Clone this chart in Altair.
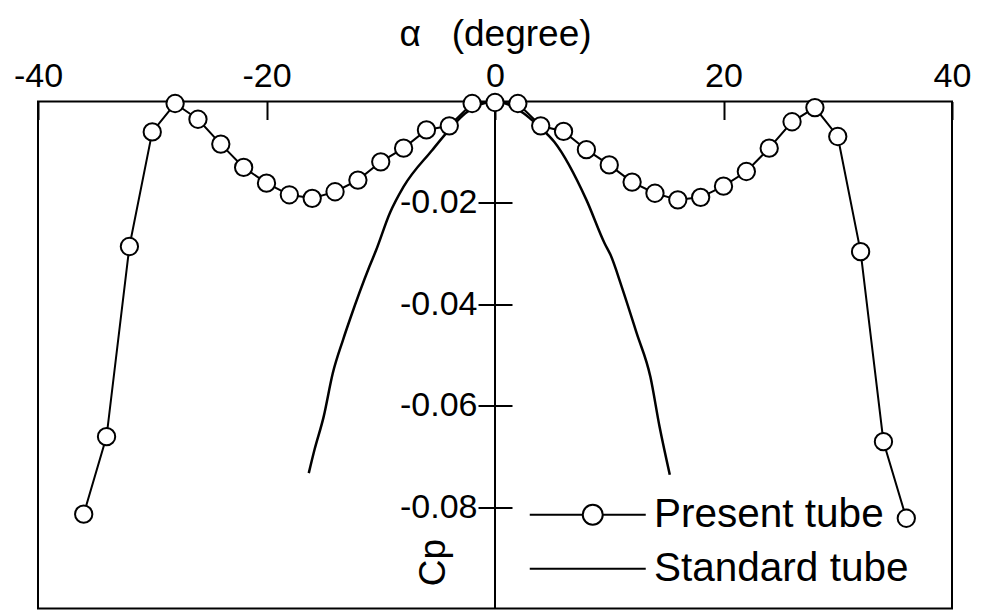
import altair as alt
import pandas as pd

# Pressure coefficient Cp against flow angle alpha for two pitot tubes
present_alpha = [-36, -34, -32, -30, -28, -26, -24, -22, -20, -18, -16, -14, -12,
                 -10, -8, -6, -4, -2, 0, 2, 4, 6, 8, 10, 12, 14, 16, 18, 20, 22,
                 24, 26, 28, 30, 32, 34, 36]
present_cp = [-0.0814, -0.0661, -0.0286, -0.0060, -0.0004, -0.0035, -0.0084,
              -0.0130, -0.0161, -0.0184, -0.0191, -0.0178, -0.0155, -0.0119,
              -0.0092, -0.0056, -0.0048, -0.0004, -0.0002, -0.0004, -0.0048,
              -0.0059, -0.0095, -0.0125, -0.0159, -0.0181, -0.0194, -0.0189,
              -0.0167, -0.0138, -0.0092, -0.0040, -0.0012, -0.0069, -0.0296,
              -0.0671, -0.0822]

standard_alpha = [-16.3, -15.8, -15.0, -14.2, -13.3, -12.7, -11.0, -10.4, -9.2,
                  -8.0, -5.5, -3.9, -2.6, 0.0, 2.5, 3.8, 5.2, 8.0, 9.6, 10.1,
                  11.1, 12.4, 13.6, 14.4, 15.3]
standard_cp = [-0.0733, -0.0687, -0.0622, -0.0536, -0.0470, -0.0430, -0.0326,
               -0.0293, -0.0220, -0.0168, -0.0096, -0.0053, -0.0023, 0.0,
               -0.0023, -0.0048, -0.0080, -0.0194, -0.0280, -0.0302, -0.0366,
               -0.0457, -0.0543, -0.0641, -0.0736]

series_names = ["Present tube", "Standard tube"]
x_ticks = [-40, -20, 0, 20, 40]
y_ticks = [-0.08, -0.06, -0.04, -0.02]

present = pd.DataFrame({"alpha": present_alpha, "cp": present_cp})
standard = pd.DataFrame({"alpha": standard_alpha, "cp": standard_cp})
legend_entries = pd.DataFrame({"series": series_names})

FONT = "Liberation Sans"
NBSP = "\u00a0"
W, H = 914, 507
X_MIN, X_MAX = -40, 40
# pixel position of alpha = 0, where the Cp axis is drawn
x_zero_px = W * (0 - X_MIN) / (X_MAX - X_MIN)
half_tick = 17

x_enc = alt.X(
    "alpha:Q",
    scale=alt.Scale(domain=[X_MIN, X_MAX], nice=False, zero=False),
    axis=alt.Axis(
        orient="top", values=x_ticks, offset=-18, tickSize=18, tickWidth=2,
        tickColor="black", domain=False, grid=False, labelPadding=8,
        labelFlush=False, labelOverlap=False, labelFont=FONT, labelFontSize=34,
        labelColor="black",
        labelExpr="datum.value < 0 ? '-' + abs(datum.value) : '' + datum.value",
        title="α" + NBSP * 3 + "(degree)", titleFont=FONT, titleFontSize=37,
        titleFontWeight="normal", titleColor="black", titleX=W / 2,
        titleY=-74.5, titleBaseline="alphabetic", titleAlign="center",
    ),
)
y_enc = alt.Y(
    "cp:Q",
    scale=alt.Scale(domain=[-0.1, 0], nice=False, zero=False),
    axis=alt.Axis(
        orient="left", values=y_ticks, offset=-(x_zero_px + half_tick),
        tickSize=2 * half_tick, tickWidth=2, tickColor="black", domain=False,
        grid=False, labelPadding=1, labelFlush=False, labelOverlap=False,
        labelFont=FONT, labelFontSize=34, labelColor="black",
        labelExpr="'-' + format(abs(datum.value), '.2f')",
        title="Cp", titleFont=FONT, titleFontSize=37, titleFontWeight="normal",
        titleColor="black", titleAngle=270, titleAlign="center",
        titleBaseline="alphabetic", titleX=-68, titleY=460.5,
    ),
)

# legend glyphs: a line with an open circle, and a plain line
present_glyph = "M-5.8,0H-0.5M1.5,0H5.8M1.5,0A1,1,0,1,1,-0.5,0A1,1,0,1,1,1.5,0Z"
standard_glyph = "M-5.8,0H5.8"

shape_enc = alt.Shape(
    "series:N",
    scale=alt.Scale(domain=series_names, range=[present_glyph, standard_glyph]),
    legend=alt.Legend(
        title=None, orient="none", legendX=529.5, legendY=393, padding=0,
        symbolSize=400, symbolStrokeWidth=2, symbolStrokeColor="black",
        symbolOpacity=1, labelFont=FONT, labelFontSize=40.5,
        labelColor="black", labelLimit=400, labelOffset=46, rowPadding=13,
    ),
)

standard_line = alt.Chart(standard).mark_line(
    strokeWidth=2.5, interpolate="monotone", color="black"
).encode(x=x_enc, y=y_enc)

present_line = alt.Chart(present).mark_line(strokeWidth=2, color="black").encode(
    x=x_enc, y=y_enc
)

present_points = alt.Chart(present).mark_point(
    shape="circle", size=300, filled=True, fill="white", fillOpacity=1,
    stroke="black", strokeWidth=2, opacity=1
).encode(x=x_enc, y=y_enc)

# key entries only: zero-sized marks, the legend draws the glyphs
legend_layer = alt.Chart(legend_entries).mark_point(
    filled=False, color="black", stroke="black", strokeWidth=2, size=0
).encode(shape=shape_enc)

cp_axis_line = alt.Chart(present).mark_rule(color="black", strokeWidth=2).encode(
    x=alt.datum(0)
)

chart = alt.layer(
    cp_axis_line, standard_line, present_line, present_points, legend_layer
).properties(
    width=W, height=H, autosize="none",
    padding={"left": 38, "top": 101.5, "right": 32, "bottom": 5.5},
    background="white",
).configure_view(stroke="black", strokeWidth=2)

chart.save("out.html", embed_options={"renderer": "svg", "actions": False})
